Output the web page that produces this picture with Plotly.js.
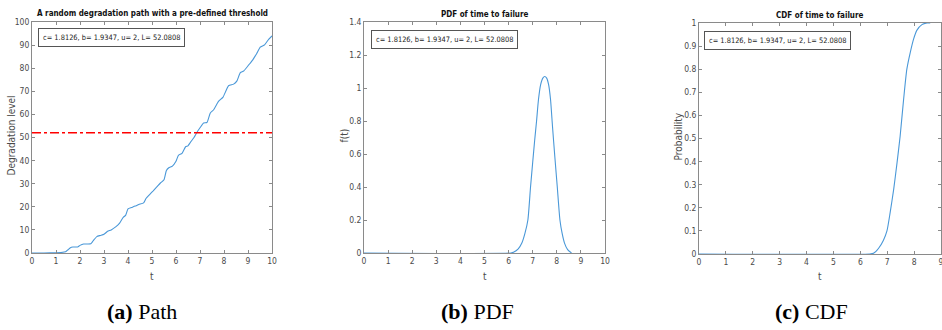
<!DOCTYPE html>
<html>
<head>
<meta charset="utf-8">
<script src="https://cdn.plot.ly/plotly-3.0.1.min.js"></script>
<style>
html,body{margin:0;padding:0;background:#fff;}
#chart{width:942px;height:330px;}
</style>
</head>
<body>
<div id="chart"></div>
<script>
// ---- Data ----
const pathT = [0, 0.5, 1.0, 1.2, 1.4, 1.5, 1.6, 1.7, 1.9, 2.0, 2.15, 2.45, 2.55, 2.7, 2.85, 3.0, 3.15, 3.3, 3.5, 3.65, 3.8, 3.9, 4.0, 4.15, 4.3, 4.45, 4.65, 4.75, 4.9, 5.05, 5.2, 5.35, 5.5, 5.6, 5.7, 5.85, 6.0, 6.1, 6.25, 6.4, 6.5, 6.6, 6.75, 6.87, 7.0, 7.15, 7.29, 7.43, 7.57, 7.77, 7.96, 8.19, 8.4, 8.54, 8.68, 8.82, 9.03, 9.2, 9.37, 9.51, 9.69, 9.86, 10];
const pathLevel = [0, 0, 0.1, 0.2, 0.5, 1.4, 2.3, 2.6, 2.6, 3.3, 3.9, 4.0, 5.3, 7.1, 7.6, 8.1, 9.4, 10.0, 11.4, 12.9, 15.4, 16.3, 19.1, 19.7, 20.3, 21.0, 21.7, 23.6, 25.3, 26.9, 28.6, 30.3, 31.7, 35.7, 36.9, 37.6, 39.7, 42.3, 43.1, 46.0, 46.4, 47.9, 50.0, 52.2, 54.2, 56.3, 56.5, 60.6, 62.0, 65.6, 67.5, 72.4, 73.1, 74.5, 78.1, 78.8, 81.4, 83.6, 86.5, 89.1, 90.1, 92.5, 94.0];
const thresholdL = 52.0808;
const thresholdT = [0, 10];

const pdfT = [0, 6.1, 6.2, 6.4, 6.55, 6.68, 6.8, 6.91, 7.0, 7.08, 7.16, 7.24, 7.33, 7.42, 7.5, 7.58, 7.66, 7.74, 7.82, 7.92, 8.02, 8.13, 8.22, 8.32, 8.45, 8.61];
const pdfF = [0, 0, 0.004, 0.025, 0.06, 0.12, 0.2, 0.4, 0.55, 0.68, 0.8, 0.93, 1.02, 1.06, 1.07, 1.06, 1.02, 0.93, 0.77, 0.58, 0.4, 0.2, 0.12, 0.06, 0.02, 0];

const cdfT = [0, 6.35, 6.49, 6.68, 6.86, 6.99, 7.11, 7.24, 7.36, 7.48, 7.61, 7.73, 7.86, 7.98, 8.1, 8.29, 8.48, 8.6];
const cdfP = [0, 0, 0.003, 0.025, 0.06, 0.10, 0.18, 0.28, 0.39, 0.51, 0.67, 0.80, 0.874, 0.93, 0.968, 0.993, 1.0, 1.0];

const paramText = "c= 1.8126, b= 1.9347, u= 2, L= 52.0808";
const titles = ["A random degradation path with a pre-defined threshold", "PDF of time to failure", "CDF of time to failure"];
const yTitles = ["Degradation level", "f(t)", "Probability"];
const xTitle = "t";
const captions = [["a", "Path"], ["b", "PDF"], ["c", "CDF"]];

// ---- Styles ----
const W = 942, H = 330;
const blue = "#4a98d8";
const frame = "#8a8a8a";
const txt = "#4a4a4a";
const sans = "DejaVu Sans Condensed, Liberation Sans, Arial, sans-serif";
const px = v => v / W;
const py = v => 1 - v / H;

const boxes = [
  {x0: 32, x1: 272, y0: 22, y1: 253},
  {x0: 364, x1: 605, y0: 22, y1: 253},
  {x0: 699, x1: 941, y0: 23, y1: 254}
];

function axis(b, range, dtick, isX, anchor) {
  return {
    domain: isX ? [px(b.x0), px(b.x1)] : [py(b.y1), py(b.y0)],
    range: range, dtick: dtick, tick0: 0,
    showgrid: false, zeroline: false,
    showline: true, linecolor: frame, linewidth: 1,
    mirror: "ticks", ticks: "inside", ticklen: 3, tickcolor: frame,
    tickfont: {family: sans, size: 8.5, color: txt},
    ticklabeloverflow: "allow",
    anchor: anchor, fixedrange: true
  };
}

const traces = [
  {x: pathT, y: pathLevel, xaxis: "x", yaxis: "y", mode: "lines", line: {color: blue, width: 1.1, shape: "spline", smoothing: 0.5}, hoverinfo: "skip"},
  {x: thresholdT, y: [thresholdL, thresholdL], xaxis: "x", yaxis: "y", mode: "lines", line: {color: "#ff0000", width: 1.6, dash: "dashdot"}, hoverinfo: "skip"},
  {x: pdfT, y: pdfF, xaxis: "x2", yaxis: "y2", mode: "lines", line: {color: blue, width: 1.1, shape: "spline", smoothing: 0.6}, hoverinfo: "skip"},
  {x: cdfT, y: cdfP, xaxis: "x3", yaxis: "y3", mode: "lines", line: {color: blue, width: 1.1, shape: "spline", smoothing: 0.6}, hoverinfo: "skip"}
];

const annotations = [];
const titleY = [13, 14, 16];
const yTitleX = [11, 344, 678];
const boxPos = [{x: 38, y: 28}, {x: 371, y: 30}, {x: 704, y: 31}];
const capX = [142, 477, 811];
boxes.forEach((b, i) => {
  annotations.push({xref: "paper", yref: "paper", x: px((b.x0 + b.x1) / 2), y: py(titleY[i]), xanchor: "center", yanchor: "middle",
    text: "<b>" + titles[i] + "</b>", showarrow: false, font: {family: sans, size: 8, color: "#111"}});
  annotations.push({xref: "paper", yref: "paper", x: px((b.x0 + b.x1) / 2), y: py(276), xanchor: "center", yanchor: "middle",
    text: xTitle, showarrow: false, font: {family: sans, size: 10, color: txt}});
  annotations.push({xref: "paper", yref: "paper", x: px(yTitleX[i]), y: py((b.y0 + b.y1) / 2 - 2), xanchor: "center", yanchor: "middle",
    text: yTitles[i], textangle: -90, showarrow: false, font: {family: sans, size: 10, color: txt}});
  annotations.push({xref: "paper", yref: "paper", x: px(boxPos[i].x), y: py(boxPos[i].y), xanchor: "left", yanchor: "top",
    text: paramText, showarrow: false, font: {family: sans, size: 7.4, color: "#222"},
    bgcolor: "#fff", bordercolor: "#555", borderwidth: 1, borderpad: 4});
  annotations.push({xref: "paper", yref: "paper", x: px(capX[i]), y: py(311), xanchor: "center", yanchor: "middle",
    text: "<b>(" + captions[i][0] + ")</b> " + captions[i][1], showarrow: false,
    font: {family: "Liberation Serif, Times New Roman, serif", size: 22, color: "#000"}});
});

const layout = {
  width: W, height: H,
  margin: {l: 0, r: 0, t: 0, b: 0},
  paper_bgcolor: "#fff", plot_bgcolor: "#fff",
  showlegend: false,
  xaxis: axis(boxes[0], [0, 10], 1, true, "y"),
  yaxis: axis(boxes[0], [0, 100], 10, false, "x"),
  xaxis2: axis(boxes[1], [0, 10], 1, true, "y2"),
  yaxis2: axis(boxes[1], [0, 1.4], 0.2, false, "x2"),
  xaxis3: axis(boxes[2], [0, 9], 1, true, "y3"),
  yaxis3: axis(boxes[2], [0, 1], 0.1, false, "x3"),
  annotations: annotations
};

Plotly.newPlot("chart", traces, layout, {displayModeBar: false, staticPlot: true});
</script>
</body>
</html>
